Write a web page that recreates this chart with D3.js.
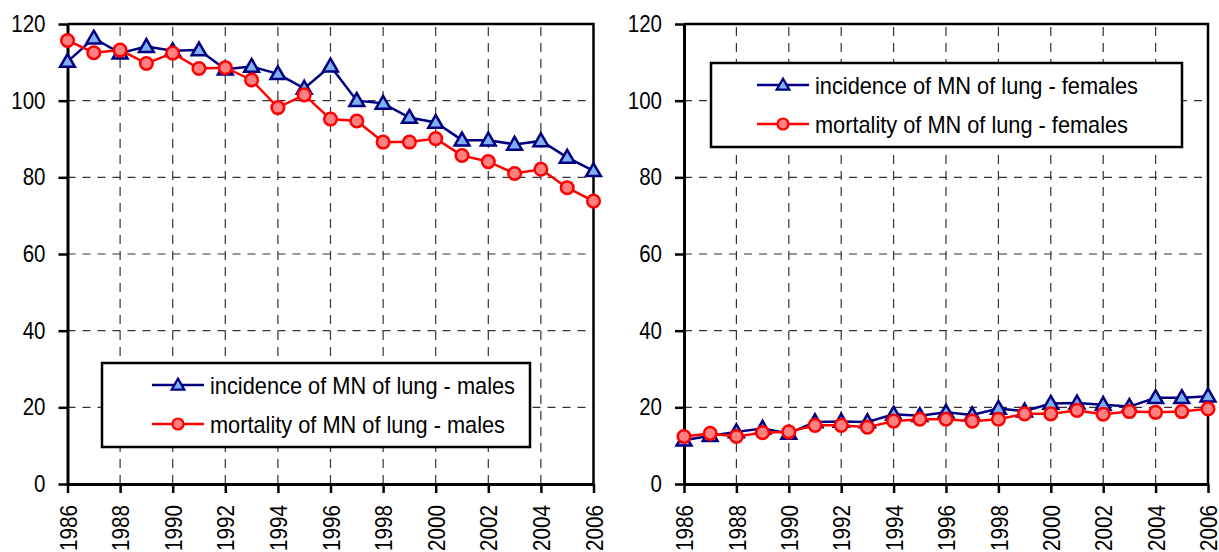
<!DOCTYPE html>
<html><head><meta charset="utf-8">
<script src="https://cdn.jsdelivr.net/npm/d3@7"></script>
<style>
html,body{margin:0;padding:0;background:#fff;}
text{font-family:"Liberation Sans Narrow","Arial Narrow","Liberation Sans",Arial,sans-serif;fill:#000;}
</style></head>
<body><svg id="c" width="1219" height="552"></svg>
<script>
const years = [1986,1987,1988,1989,1990,1991,1992,1993,1994,1995,1996,1997,1998,1999,2000,2001,2002,2003,2004,2005,2006];
const xTicks = [1986,1988,1990,1992,1994,1996,1998,2000,2002,2004,2006];
const yTicks = [0,20,40,60,80,100,120];

const incidenceMales = [110.2,116.3,112.4,114.1,113.0,113.2,108.2,108.9,107.0,103.2,109.0,100.0,99.3,95.6,94.3,89.7,89.7,88.6,89.5,85.2,81.7];
const mortalityMales = [115.7,112.5,113.2,109.7,112.4,108.4,108.6,105.4,98.2,101.5,95.2,94.7,89.2,89.2,90.1,85.7,84.1,81.0,82.1,77.3,73.8];
const incidenceFemales = [11.4,12.6,13.6,14.5,13.2,16.2,16.3,16.2,18.2,17.8,18.7,18.0,19.7,19.0,21.0,21.1,20.7,20.2,22.5,22.5,22.9];
const mortalityFemales = [12.4,13.2,12.4,13.4,13.6,15.3,15.3,14.8,16.4,16.9,16.9,16.4,16.9,18.3,18.3,19.2,18.2,18.9,18.7,18.9,19.6];

const labelsMales = ["incidence of MN of lung - males","mortality of MN of lung - males"];
const labelsFemales = ["incidence of MN of lung - females","mortality of MN of lung - females"];

const NAVY = "#000080", LBLUE = "#7fb0f0", RED = "#ff0000", PINK = "#ff8080";
const svg = d3.select("#c");
const triangle = d3.symbol().type(d3.symbolTriangle).size(95);

function panel(cfg){
  const x = d3.scaleLinear().domain([1986,2006]).range([cfg.x0, cfg.x1]);
  const y = d3.scaleLinear().domain([0,120]).range([484,24]);
  const g = svg.append("g");
  g.selectAll(".vg").data(xTicks.slice(1,-1)).join("line")
    .attr("x1",d=>x(d)).attr("x2",d=>x(d)).attr("y1",y(0)).attr("y2",y(120))
    .attr("stroke","#333").attr("stroke-width",1.2).attr("stroke-dasharray","9,7");
  g.selectAll(".hg").data(yTicks.slice(1,-1)).join("line")
    .attr("x1",x(1986)).attr("x2",x(2006)).attr("y1",d=>y(d)).attr("y2",d=>y(d))
    .attr("stroke","#333").attr("stroke-width",1.2).attr("stroke-dasharray","8,7");
  g.append("path").attr("d",`M${x(1986)},${y(120)}H${x(2006)}V${y(0)}`)
    .attr("fill","none").attr("stroke","#000").attr("stroke-width",2.5);
  const ya = g.append("g").attr("transform",`translate(${x(1986)},0)`)
    .call(d3.axisLeft(y).tickValues(yTicks).tickSize(9).tickSizeOuter(0).tickPadding(13));
  ya.select(".domain").attr("stroke-width",3);
  ya.selectAll(".tick line").attr("stroke-width",2.5);
  ya.selectAll("text").style("font-size","23px")
    .attr("textLength",d=>String(d).length*11.4).attr("lengthAdjust","spacingAndGlyphs");
  const xa = g.append("g").attr("transform",`translate(0,${y(0)})`)
    .call(d3.axisBottom(x).tickValues(xTicks).tickFormat(d3.format("d")).tickSize(9).tickSizeOuter(0));
  xa.select(".domain").attr("stroke-width",3);
  xa.selectAll(".tick line").attr("stroke-width",2.5);
  xa.selectAll("text").style("font-size","24px")
    .attr("transform","rotate(-90)").attr("y",0).attr("x",-21).attr("dy","0.36em")
    .attr("textLength",46).attr("lengthAdjust","spacingAndGlyphs")
    .style("text-anchor","end");
  const line = d3.line().x((d,i)=>x(years[i])).y(d=>y(d));
  g.append("path").datum(cfg.inc).attr("d",line).attr("fill","none").attr("stroke",NAVY).attr("stroke-width",2.5);
  g.selectAll(".tri").data(cfg.inc).join("path")
    .attr("d",triangle).attr("transform",(d,i)=>`translate(${x(years[i])},${y(d)+1})`)
    .attr("fill",LBLUE).attr("stroke",NAVY).attr("stroke-width",2.5);
  g.append("path").datum(cfg.mor).attr("d",line).attr("fill","none").attr("stroke",RED).attr("stroke-width",2.5);
  g.selectAll(".cir").data(cfg.mor).join("circle")
    .attr("cx",(d,i)=>x(years[i])).attr("cy",d=>y(d)).attr("r",6.3)
    .attr("fill",PINK).attr("stroke",RED).attr("stroke-width",2.5);
  const L = cfg.leg;
  const lg = g.append("g");
  lg.append("rect").attr("x",L.x).attr("y",L.y).attr("width",L.w).attr("height",84)
    .attr("fill","#fff").attr("stroke","#000").attr("stroke-width",2.5);
  const rows = [22, 61];
  const lx0 = L.x+L.lo, lx1 = L.x+L.lo+52;
  [0,1].forEach(k=>{
    const ry = L.y+rows[k];
    lg.append("line").attr("x1",lx0).attr("x2",lx1).attr("y1",ry).attr("y2",ry)
      .attr("stroke",k?RED:NAVY).attr("stroke-width",2.5);
    if(k===0){
      lg.append("path").attr("d",d3.symbol().type(d3.symbolTriangle).size(70))
        .attr("transform",`translate(${(lx0+lx1)/2},${ry+1})`)
        .attr("fill",LBLUE).attr("stroke",NAVY).attr("stroke-width",2.2);
    } else {
      lg.append("circle").attr("cx",(lx0+lx1)/2).attr("cy",ry).attr("r",5.5)
        .attr("fill",PINK).attr("stroke",RED).attr("stroke-width",2.2);
    }
    lg.append("text").attr("x",lx1+6).attr("y",ry).attr("dy","0.36em")
      .style("font-size","24px")
      .attr("textLength",L.tw[k]).attr("lengthAdjust","spacingAndGlyphs")
      .text(cfg.labels[k]);
  });
}

panel({x0:67.5,x1:593.5,inc:incidenceMales,mor:mortalityMales,labels:labelsMales,
       leg:{x:102,y:363,w:428,lo:50,tw:[305,295]}});
panel({x0:684,x1:1208,inc:incidenceFemales,mor:mortalityFemales,labels:labelsFemales,
       leg:{x:711,y:63,w:471,lo:46,tw:[323,313]}});
</script></body></html>
